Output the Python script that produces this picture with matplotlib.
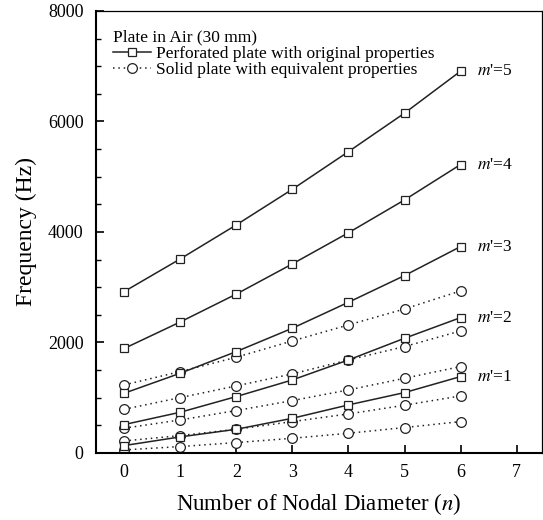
import numpy as np
import matplotlib.pyplot as plt
from matplotlib.ticker import MultipleLocator

plt.rcParams['font.family'] = ['Liberation Serif', 'DejaVu Serif']
plt.rcParams['mathtext.fontset'] = 'stix'

# nodal diameter n
n = [0, 1, 2, 3, 4, 5, 6]

# perforated plate with original properties (Hz), m'=1..5
perf_m1 = [133, 290, 428, 627, 869, 1092, 1382]
perf_m2 = [513, 736, 1020, 1321, 1683, 2075, 2449]
perf_m3 = [1080, 1442, 1834, 2257, 2727, 3210, 3735]
perf_m4 = [1890, 2370, 2875, 3421, 3985, 4579, 5220]
perf_m5 = [2920, 3511, 4127, 4772, 5453, 6150, 6910]

# solid plate with equivalent properties (Hz), m'=1..5
solid_m1 = [54, 115, 187, 265, 356, 459, 567]
solid_m2 = [217, 314, 428, 567, 706, 863, 1032]
solid_m3 = [447, 597, 767, 947, 1140, 1351, 1563]
solid_m4 = [790, 1001, 1213, 1430, 1683, 1925, 2208]
solid_m5 = [1231, 1472, 1732, 2027, 2317, 2606, 2932]

mode_labels = ["$m$'=1", "$m$'=2", "$m$'=3", "$m$'=4", "$m$'=5"]

perf = [perf_m1, perf_m2, perf_m3, perf_m4, perf_m5]
solid = [solid_m1, solid_m2, solid_m3, solid_m4, solid_m5]

fig = plt.figure(figsize=(5.43, 5.20), dpi=100)
ax = fig.add_axes([0.177, 0.129, 0.821, 0.850])

col = '#222222'
for i, ys in enumerate(solid):
    ax.plot(n, ys, linestyle=(0, (1, 2.5)), color=col, linewidth=1.1,
            marker='o', markersize=7, markerfacecolor='white',
            markeredgecolor=col, markeredgewidth=0.9,
            label='Solid plate with equivalent properties' if i == 0 else None)
for i, ys in enumerate(perf):
    ax.plot(n, ys, linestyle='-', color=col, linewidth=1.1,
            marker='s', markersize=6, markerfacecolor='white',
            markeredgecolor=col, markeredgewidth=0.9,
            label='Perforated plate with original properties' if i == 0 else None)

# m' labels next to the last perforated point
for ys, lab in zip(perf, mode_labels):
    ax.text(6.3, ys[-1], lab, fontsize=12.5, va='center', ha='left')

ax.set_xlim(-0.5, 7.45)
ax.set_ylim(0, 8000)
ax.set_xticks(range(8))
ax.yaxis.set_major_locator(MultipleLocator(2000))
ax.yaxis.set_minor_locator(MultipleLocator(500))
ax.tick_params(axis='both', direction='in', labelsize=13, length=6, width=1.2,
               top=False, right=False)
ax.tick_params(axis='y', which='minor', direction='in', length=3.5, width=1.0)
ax.tick_params(axis='x', pad=8)
ax.tick_params(axis='y', pad=9)
for s in ax.spines.values():
    s.set_linewidth(0.9)
ax.spines['bottom'].set_linewidth(1.5)
ax.spines['left'].set_linewidth(1.5)

ax.set_xlabel('Number of Nodal Diameter ($n$)', fontsize=16.5, labelpad=7)
ax.set_ylabel('Frequency (Hz)', fontsize=17, labelpad=8)

handles, labels = ax.get_legend_handles_labels()
order = [1, 0]
leg = ax.legend([handles[k] for k in order], [labels[k] for k in order],
                title='Plate in Air (30 mm)', loc='upper left', frameon=False,
                fontsize=12.5, title_fontsize=12.5, handlelength=2.2,
                handletextpad=0.3, labelspacing=0.0, borderaxespad=0.3,
                alignment='left', bbox_to_anchor=(0.01, 0.985))

fig.savefig('out.png', dpi=100)
